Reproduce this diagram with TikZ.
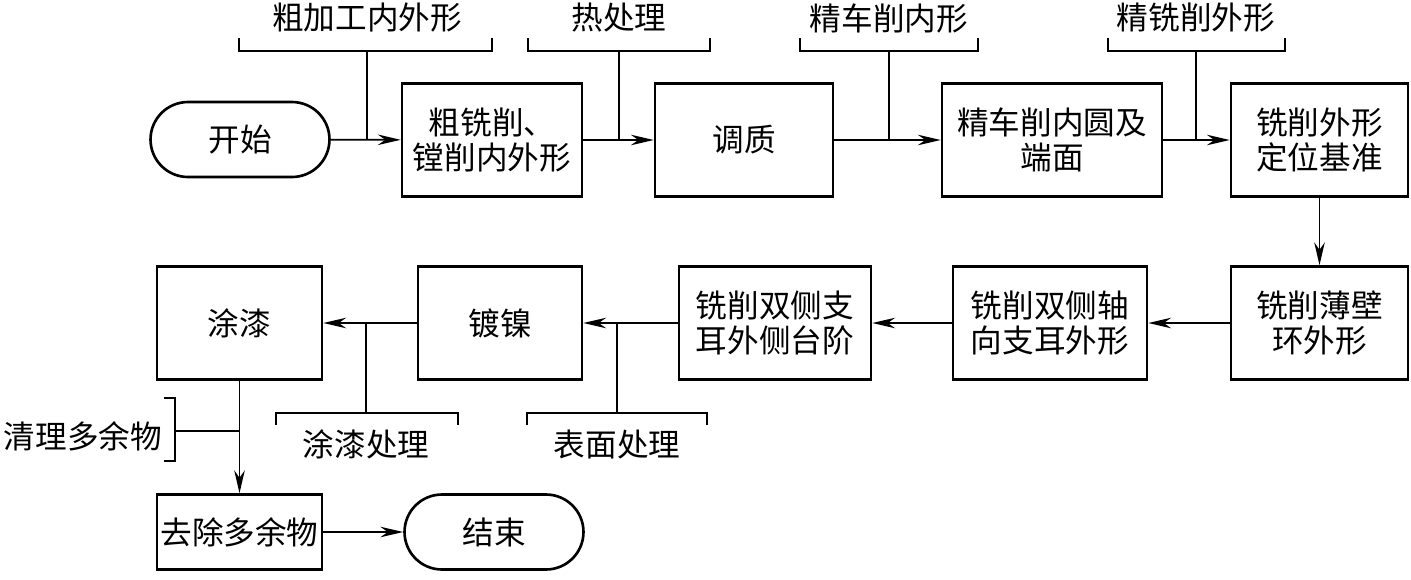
\documentclass[tikz,border=0pt]{standalone}
\usepackage{fontspec}
\setmainfont{Noto Sans CJK SC}
\usetikzlibrary{arrows.meta, positioning}
\tikzset{
  every picture/.style={font=\fontsize{18}{19.5}\selectfont, >={Stealth[length=13pt,width=6pt]}},
  proc/.style={draw=black, line width=1.5pt, minimum height=2.26cm, align=center, inner sep=2pt},
  term/.style={draw=black, line width=1.5pt, minimum width=3.58cm, minimum height=1.5cm, rounded corners=0.75cm, align=center},
  lbl/.style={inner sep=1pt, align=center},
  flecha/.style={->, line width=0.95pt},
  linea/.style={line width=0.95pt},
  corchete/.style={line width=0.8pt},
}
\begin{document}
\begin{tikzpicture}[x=0.02cm, y=-0.02cm]
  \useasboundingbox (0,0) rectangle (1411,579);
  % primera fila
  \node[term] (inicio) at (240,139.5) {开始};
  \node[proc, minimum width=3.6cm] (desbaste) at (492,140) {粗铣削、\\镗削内外形};
  \node[proc, minimum width=3.56cm] (temple) at (744,140) {调质};
  \node[proc, minimum width=4.4cm] (torneado) at (1052,140) {精车削内圆及\\端面};
  \node[proc, minimum width=3.54cm] (base) at (1319.5,140) {铣削外形\\定位基准};
  % segunda fila
  \node[proc, minimum width=3.54cm] (anillo) at (1319.5,323) {铣削薄壁\\环外形};
  \node[proc, minimum width=3.88cm] (axial) at (1050,323) {铣削双侧轴\\向支耳外形};
  \node[proc, minimum width=3.84cm] (escalon) at (775,323) {铣削双侧支\\耳外侧台阶};
  \node[proc, minimum width=3.28cm] (niquel) at (500,323) {镀镍};
  \node[proc, minimum width=3.3cm] (pintura) at (239.5,323) {涂漆};
  % tercera fila
  \node[proc, minimum width=3.3cm, minimum height=1.5cm] (limpieza) at (239.5,532) {去除多余物};
  \node[term] (fin) at (494,532) {结束};
  % flujo principal
  \draw[flecha] (inicio) -- (desbaste);
  \draw[flecha] (desbaste) -- (temple);
  \draw[flecha] (temple) -- (torneado);
  \draw[flecha] (torneado) -- (base);
  \draw[flecha] (base) -- (anillo);
  \draw[flecha] (anillo) -- (axial);
  \draw[flecha] (axial) -- (escalon);
  \draw[flecha] (escalon) -- (niquel);
  \draw[flecha] (niquel) -- (pintura);
  \draw[flecha] (pintura) -- (limpieza);
  \draw[flecha] (limpieza) -- (fin);
  % etiquetas superiores
  \node[lbl] (e1) at (367,18) {粗加工内外形};
  \node[lbl] (e2) at (619,18) {热处理};
  \node[lbl] (e3) at (889,18) {精车削内形};
  \node[lbl] (e4) at (1196,18) {精铣削外形};
  \draw[corchete] (239,38) |- (492,51) -- (492,38);
  \draw[corchete] (528,38) |- (710,51) -- (710,38);
  \draw[corchete] (800,38) |- (978,51) -- (978,38);
  \draw[corchete] (1108,38) |- (1285,51) -- (1285,38);
  \coordinate (c1) at (367,51); \draw[linea] (c1) -- (c1 |- desbaste.west);
  \coordinate (c2) at (619,51); \draw[linea] (c2) -- (c2 |- temple.west);
  \coordinate (c3) at (889,51); \draw[linea] (c3) -- (c3 |- torneado.west);
  \coordinate (c4) at (1196,51); \draw[linea] (c4) -- (c4 |- base.west);
  % etiquetas inferiores
  \node[lbl] (e5) at (366,444) {涂漆处理};
  \node[lbl] (e6) at (617,444) {表面处理};
  \draw[corchete] (276,425) |- (458,413) -- (458,425);
  \draw[corchete] (527,425) |- (707,413) -- (707,425);
  \coordinate (c5) at (366,413); \draw[linea] (c5) -- (c5 |- pintura.east);
  \coordinate (c6) at (617,413); \draw[linea] (c6) -- (c6 |- niquel.east);
  % limpieza lateral
  \node[lbl] (e7) at (83,436) {清理多余物};
  \draw[corchete] (164,398) -| (175,461) -- (164,461);
  \coordinate (c7) at (175,431); \draw[linea] (c7) -- (c7 -| pintura.south);
\end{tikzpicture}
\end{document}
